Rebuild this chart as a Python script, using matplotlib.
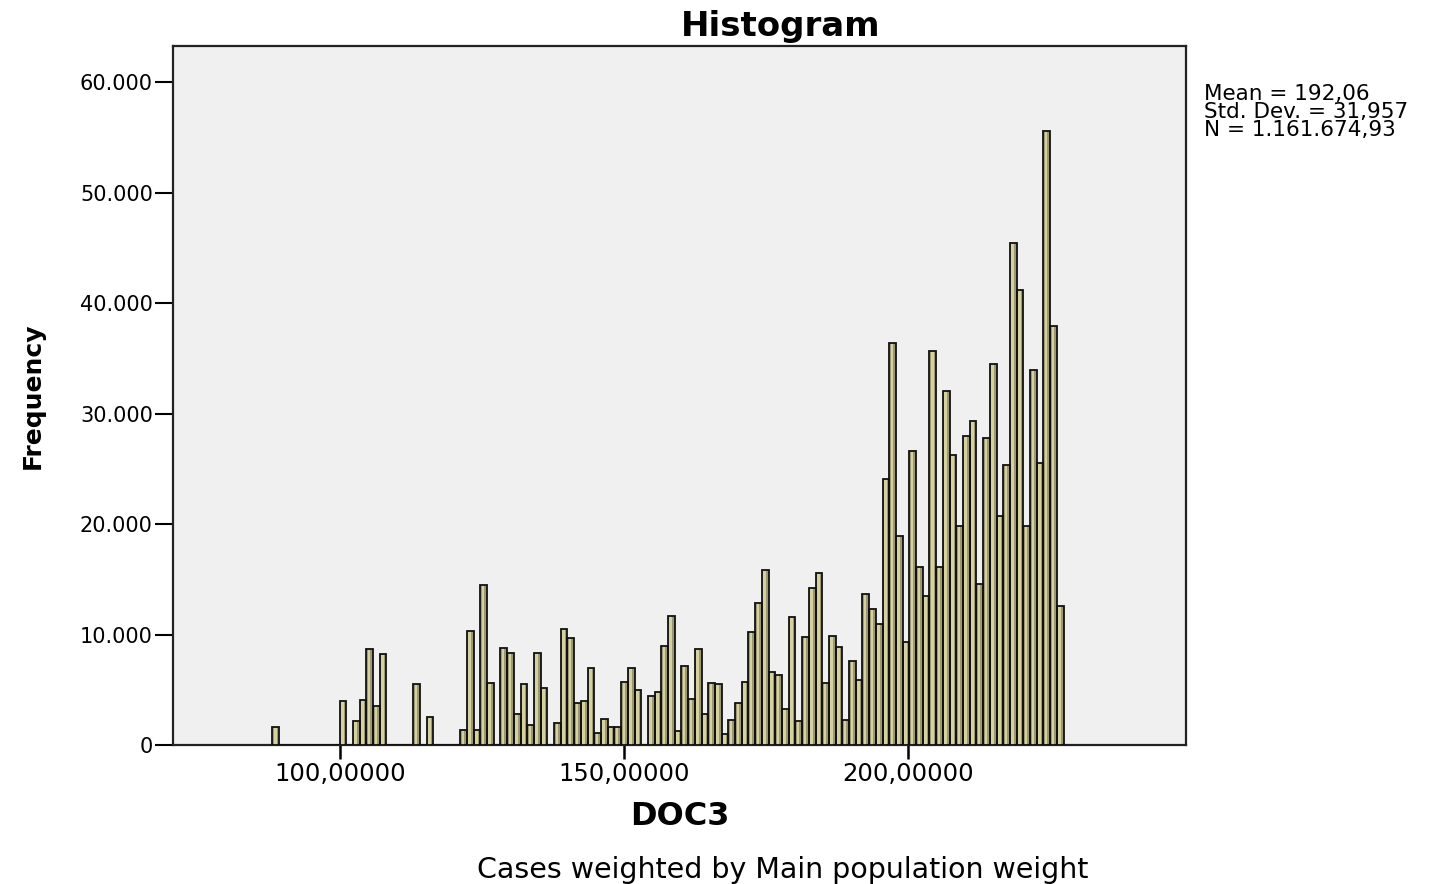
import matplotlib.pyplot as plt
from matplotlib.ticker import FuncFormatter

# Histogram bins of DOC3 (weighted frequencies)
bin_start = 88.16
bin_width = 1.1796
freq = [
    1650, 0, 0, 0, 0, 0, 0, 0, 0, 0,
    4000, 0, 2200, 4100, 8670, 3500, 8240, 0, 0, 0,
    0, 5500, 0, 2560, 0, 0, 0, 0, 1360, 10300,
    1360, 14500, 5650, 0, 8760, 8360, 2800, 5520, 1780, 8300,
    5200, 0, 1960, 10500, 9660, 3830, 4000, 6950, 1060, 2320,
    1660, 1660, 5740, 7000, 4980, 0, 4440, 4830, 8970, 11700,
    1300, 7150, 4140, 8700, 2800, 5600, 5500, 1000, 2300, 3770,
    5740, 10200, 12900, 15850, 6600, 6340, 3260, 11600, 2170, 9800,
    14200, 15600, 5640, 9870, 8900, 2260, 7600, 5850, 13700, 12300,
    11000, 24100, 36400, 18900, 9360, 26600, 16100, 13500, 35700, 16100,
    32100, 26300, 19800, 28000, 29300, 14600, 27800, 34500, 20700, 25400,
    45500, 41200, 19800, 34000, 25500, 55600, 37900, 12600,
]
stats_lines = ["Mean = 192,06", "Std. Dev. = 31,957", "N = 1.161.674,93"]
x_ticks = [100, 150, 200]
y_ticks = [0, 10000, 20000, 30000, 40000, 50000, 60000]

edges = [bin_start + i * bin_width for i in range(len(freq) + 1)]
lefts = edges[:-1]

fig = plt.figure(figsize=(14.39, 8.84), dpi=100)
ax = fig.add_axes([0.1202, 0.1572, 0.7040, 0.7908])
ax.set_facecolor("#F0F0F0")

# bar body, light stripe for the SPSS 3D look, then the outline
ax.bar(lefts, freq, width=bin_width, align="edge", color="#9e9872", linewidth=0, zorder=2)
ax.bar([l + bin_width * 0.22 for l in lefts], freq, width=bin_width * 0.38, align="edge",
       color="#d6d1a0", linewidth=0, zorder=3)
ax.bar(lefts, freq, width=bin_width, align="edge", facecolor="none",
       edgecolor="#111111", linewidth=1.3, zorder=4)

ax.set_xlim(70.65, 248.9)
ax.set_ylim(0, 63300)
ax.set_xticks(x_ticks)
ax.set_yticks(y_ticks)
ax.xaxis.set_major_formatter(FuncFormatter(lambda v, p: f"{v:.5f}".replace(".", ",")))
ax.yaxis.set_major_formatter(FuncFormatter(lambda v, p: f"{v:,.0f}".replace(",", ".")))
ax.tick_params(axis="y", length=13, width=1.5, pad=1.5, labelsize=15)
ax.tick_params(axis="x", length=10, width=1.8, pad=2, labelsize=17.5)

for s in ax.spines.values():
    s.set_linewidth(1.6)
    s.set_color("#222222")

ax.set_title("Histogram", fontsize=24.5, fontweight="bold", x=0.6, pad=7)
ax.set_ylabel("Frequency", fontsize=18, fontweight="bold")
ax.yaxis.set_label_coords(-0.127, 0.5)
ax.set_xlabel("DOC3", fontsize=23, fontweight="bold", labelpad=11)

fig.text(0.837, 0.905, "\n".join(stats_lines), fontsize=15.5, va="top", ha="left",
         linespacing=0.88)
fig.text(0.544, 0.016, "Cases weighted by Main population weight", fontsize=20.5,
         ha="center", va="center")

fig.savefig("out.png", dpi=100, facecolor="white")
